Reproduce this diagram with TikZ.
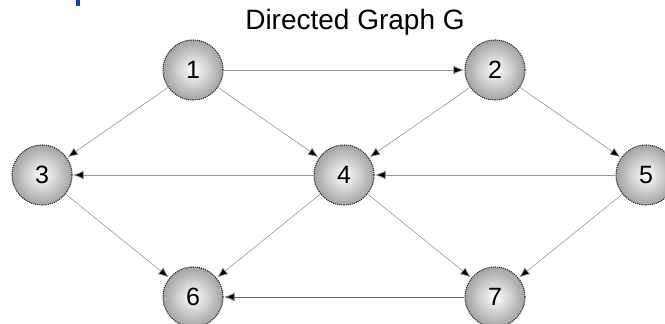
\documentclass[tikz,border=0pt]{standalone}
\usepackage{fontspec}
\setmainfont{Liberation Sans}
\usetikzlibrary{arrows.meta}
\definecolor{edgegray}{RGB}{150,150,150}
\definecolor{titleblue}{RGB}{25,60,170}
\tikzset{
  vertex/.style={circle, minimum size=60pt, inner sep=0pt,
    inner color=white, outer color=black!36,
    draw=black!85, line width=1.1pt, densely dotted,
    font=\fontsize{25}{25}\selectfont},
  arc/.style={draw=edgegray, line width=0.6pt,
    -{Latex[length=10.5pt,width=8.5pt,fill=black]}, shorten >=0.5pt},
}
\begin{document}
\begin{tikzpicture}[x=1pt,y=-1pt]
  \useasboundingbox (0,0) rectangle (665,324);
  \clip (0,0) rectangle (665,324);
  % small piece of a heading above the picture
  \fill[titleblue] (76,0) rectangle (80,6);
  \node[font=\fontsize{28}{28}\selectfont] (title) at (355,22) {Directed Graph G};
  % vertices
  \node[vertex] (n1) at (193,70) {1};
  \node[vertex] (n2) at (495,70) {2};
  \node[vertex] (n3) at (42,175) {3};
  \node[vertex] (n4) at (344,175) {4};
  \node[vertex] (n5) at (646,175) {5};
  \node[vertex] (n6) at (193,297) {6};
  \node[vertex] (n7) at (495,297) {7};
  % arcs
  \draw[arc] (n1) -- (n2);
  \draw[arc] (n1) -- (n3);
  \draw[arc] (n1) -- (n4);
  \draw[arc] (n2) -- (n4);
  \draw[arc] (n2) -- (n5);
  \draw[arc] (n4) -- (n3);
  \draw[arc] (n5) -- (n4);
  \draw[arc] (n3) -- (n6);
  \draw[arc] (n4) -- (n6);
  \draw[arc] (n4) -- (n7);
  \draw[arc] (n5) -- (n7);
  \draw[arc, draw=black!60, line width=0.9pt] (n7) -- (n6);
\end{tikzpicture}
\end{document}
